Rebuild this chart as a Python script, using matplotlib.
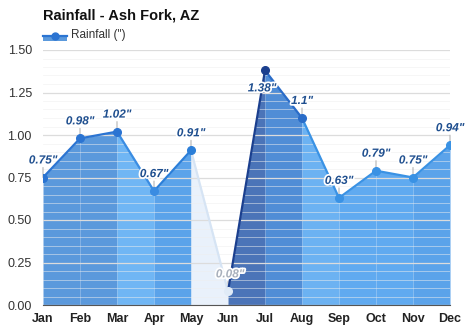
import matplotlib.pyplot as plt
import matplotlib.patheffects as pe
from matplotlib.lines import Line2D
from matplotlib.patches import Rectangle
from matplotlib.ticker import MultipleLocator

plt.rcParams['font.family'] = ['Liberation Sans', 'DejaVu Sans']

months = ['Jan', 'Feb', 'Mar', 'Apr', 'May', 'Jun', 'Jul', 'Aug', 'Sep', 'Oct', 'Nov', 'Dec']
rain = [0.75, 0.98, 1.02, 0.67, 0.91, 0.08, 1.38, 1.10, 0.63, 0.79, 0.75, 0.94]
labels = ['0.75"', '0.98"', '1.02"', '0.67"', '0.91"', '0.08"', '1.38"', '1.1"', '0.63"', '0.79"', '0.75"', '0.94"']

# colour of each segment (from month i to month i+1)
fill_cols = ['#5b99dc', '#5b99dc', '#70b6f4', '#5ba3ea', '#e9f1fb', '#4b74b8',
             '#508dd6', '#6cb2f2', '#60aaf0', '#60aaf0', '#5ba3ea']
line_cols = ['#2b74d2', '#2b74d2', '#3a8ce2', '#2b7ed8', '#d6e4f4', '#1b3f8e',
             '#2a6cc8', '#3a92e4', '#3a92e4', '#3a92e4', '#3a92e4']
mark_cols = ['#2b74d2', '#2b74d2', '#2b74d2', '#3a8ce2', '#2b7ed8', '#e0ebf7',
             '#1b3f8e', '#2a6cc8', '#3a92e4', '#3a92e4', '#3a92e4', '#3a92e4']

fig = plt.figure(figsize=(4.74, 3.31), dpi=100)
ax = fig.add_axes([43 / 474, 26 / 331, 407 / 474, 255 / 331])

x = list(range(len(months)))
for i in range(len(months) - 1):
    ax.fill_between(x[i:i + 2], rain[i:i + 2], 0, color=fill_cols[i], lw=0, zorder=1)
    ax.plot(x[i:i + 2], rain[i:i + 2], color=line_cols[i], lw=1.6, zorder=4,
            solid_capstyle='round')
for i in range(len(months)):
    ax.plot(x[i], rain[i], 'o', ms=5.5, color=mark_cols[i], mec=mark_cols[i], zorder=5)

ax.set_xlim(0, 11)
ax.set_ylim(0, 1.5)
ax.yaxis.set_major_locator(MultipleLocator(0.25))
ax.yaxis.set_minor_locator(MultipleLocator(0.05))
ax.grid(axis='y', which='major', color='#dcdcdc', lw=0.9, zorder=2)
ax.grid(axis='y', which='minor', color='#eeeeee', lw=0.6, zorder=2, alpha=0.6)
ax.set_axisbelow(False)
for s in ['top', 'right', 'left']:
    ax.spines[s].set_visible(False)
ax.spines['bottom'].set_color('#555555')
ax.spines['bottom'].set_zorder(6)

ax.set_xticks(x)
ax.set_xticklabels(months, fontweight='bold', fontsize=9, color='#222222')
ax.set_yticks([0, 0.25, 0.5, 0.75, 1.0, 1.25, 1.5])
ax.set_yticklabels(['0.00', '0.25', '0.50', '0.75', '1.00', '1.25', '1.50'],
                   fontsize=9, color='#333333')
ax.tick_params(axis='both', which='both', length=0)
ax.tick_params(axis='x', pad=6)
ax.tick_params(axis='y', pad=8)

halo = [pe.withStroke(linewidth=2.5, foreground='white')]
for i, (v, lab) in enumerate(zip(rain, labels)):
    col = '#1f4f8f'
    dy = 17
    dx = 0
    if i == 5:
        col = '#a8b0bc'
        dx = 2
    if i == 6:
        dy = -18
        dx = -3
    if dy > 0:
        ax.annotate('', xy=(i, v), xycoords='data', xytext=(0, 10), textcoords='offset pixels',
                    arrowprops=dict(arrowstyle='-', color='#b5b5b5', lw=0.8,
                                    shrinkA=0, shrinkB=0), zorder=3)
    ax.annotate(lab, xy=(i, v), xytext=(dx, dy), textcoords='offset pixels',
                ha='center', va='center', fontsize=8.5, fontweight='bold',
                fontstyle='italic', color=col, path_effects=halo, zorder=7,
                annotation_clip=False)

fig.text(43 / 474, 1 - 15 / 331, 'Rainfall - Ash Fork, AZ', fontsize=10.5,
         fontweight='bold', color='#111111', va='center', ha='left')

# legend
fig.patches.append(Rectangle((43 / 474, 1 - 41 / 331), 24 / 474, 5 / 331,
                             transform=fig.transFigure, color='#5b99dc', lw=0))
fig.lines.append(Line2D([43 / 474, 67 / 474], [1 - 36 / 331, 1 - 36 / 331],
                        transform=fig.transFigure, color='#2b74d2', lw=1.6))
fig.lines.append(Line2D([55 / 474], [1 - 36 / 331], transform=fig.transFigure,
                        color='#2b74d2', marker='o', ms=5))
fig.text(71 / 474, 1 - 35 / 331, 'Rainfall (")', fontsize=8.5, color='#333333',
         va='center', ha='left')

fig.savefig('out.png', dpi=100, facecolor='white')
